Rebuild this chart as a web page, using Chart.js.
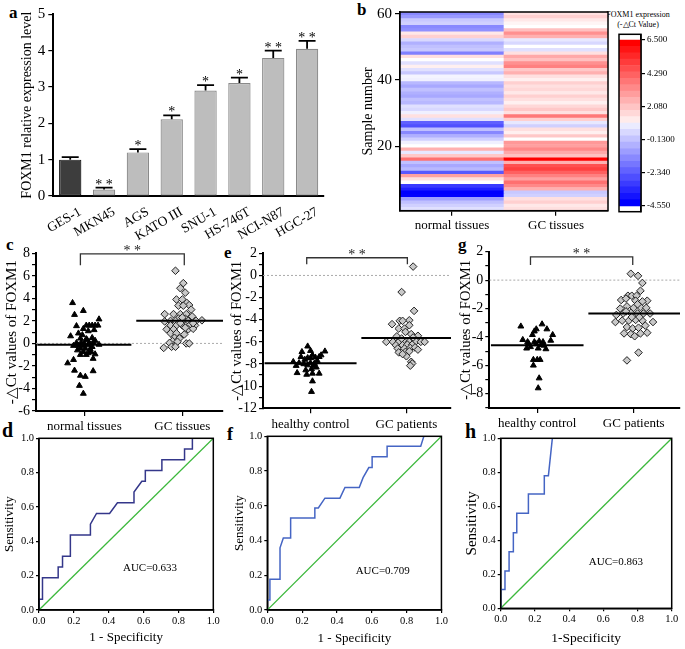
<!DOCTYPE html>
<html>
<head>
<meta charset="utf-8">
<script src="https://cdn.jsdelivr.net/npm/chart.js@4.4.1/dist/chart.umd.min.js"></script>
<style>
  html, body { margin: 0; padding: 0; background: #fff; }
  body { position: relative; width: 685px; height: 649px; overflow: hidden; }
  canvas { position: absolute; }
  .tag { position: absolute; font-family: 'Liberation Serif', serif; font-weight: bold; line-height: 1; color: #000; }
  .cbar { position: absolute; font-family: 'Liberation Serif', serif; font-size: 8px; line-height: 10px; text-align: center; color: #000; }
</style>
</head>
<body>
<div class="tag" style="left:9px;top:4px;font-size:17px">a</div>
<div class="tag" style="left:357px;top:1px;font-size:17px">b</div>
<div class="tag" style="left:6px;top:236px;font-size:17px">c</div>
<div class="tag" style="left:224px;top:244px;font-size:17px">e</div>
<div class="tag" style="left:458px;top:236px;font-size:17px">g</div>
<div class="tag" style="left:2px;top:420px;font-size:20px">d</div>
<div class="tag" style="left:227px;top:425px;font-size:18px">f</div>
<div class="tag" style="left:465px;top:421px;font-size:20px">h</div>
<div class="cbar" style="left:598px;top:10px;width:80px">FOXM1 expression<br>(-△Ct Value)</div>

<script>
// ---- panel a: qPCR in cell lines ----
const cellLines = ['GES-1', 'MKN45', 'AGS', 'KATO III', 'SNU-1', 'HS-746T', 'NCI-N87', 'HGC-27'];
const foxm1Level = [1.0, 0.18, 1.2, 2.11, 2.9, 3.11, 3.8, 4.05];
const foxm1Err = [0.07, 0.05, 0.09, 0.11, 0.15, 0.15, 0.2, 0.22];
const foxm1Sig = ['', '**', '*', '*', '*', '*', '**', '**'];

// ---- panel b: heatmap, sample 1 (bottom) .. 60 (top) ----
const heatGroups = ['normal tissues', 'GC tissues'];
const heatNormal = [0.30, -0.04, -0.39, -1.08, -4.5, -4.55, -3.86, -3.29, 0.98, 1.65,
  3.03, -2.64, -0.56, -0.91, -0.39, 4.07, 2.17, 0.48, 2.69, 0.98,
  0.65, -0.04, -0.74, -1.60, -0.39, -2.82, -2.47, 0.30, 1.65, 0.65,
  0.13, 0.30, -0.56, -0.39, -0.91, -0.74, -0.39, -0.91, -0.56, 0.65,
  0.74, -0.22, 0.30, 1.30, 0.30, 0.98, 1.65, -1.78, -0.22, -0.39,
  -0.74, 0.13, 1.99, 1.47, -1.43, -1.60, -0.04, -0.22, -1.21, -1.60];
const heatGC = [1.65, 1.47, 1.99, 1.65, -0.04, -0.22, 2.69, 3.55, 4.07, 3.03,
  3.73, 4.42, 5.11, 4.77, 2.69, 6.5, 2.34, 2.86, 3.55, 3.03,
  3.21, 0.98, 2.17, 1.30, 1.65, -0.04, 0.48, 1.99, 3.90, 1.65,
  2.17, 1.82, 1.30, 1.65, 1.99, 1.47, 1.82, 1.65, 1.99, 1.30,
  1.65, 2.69, 2.17, 3.73, 3.38, 2.34, 2.86, 1.65, 0.30, 0.98,
  0.13, 0.48, 2.69, 3.38, 2.34, 0.98, 1.20, 1.47, 1.99, 1.65];
const heatTicks = [6.5, 4.29, 2.08, -0.13, -2.34, -4.55];
const heatTickLabels = ['6.500', '4.290', '2.080', '-0.1300', '-2.340', '-4.550'];

// ---- panel c: tissues ----
const tissueGroups = ['normal tissues', 'GC tissues'];
const cNormal = [3.6, 2.55, 2.9, 2.15, 1.55, 1.6, 1.6, 1.6, 1.6, 1.6, 1.3, 1.1, 0.65, 0.9, 0.75, 0.45, 0.4, 0.3,
  0.05, 0.1, 0.05, 0.1, 0.25, -0.2, -0.2, -0.2, -0.15, -0.1, 0.0, -0.45, -0.45, -0.5, -0.3, -0.75, -0.75, -0.6,
  -1.0, -1.0, -0.95, -1.35, -1.45, -1.75, -2.4, -2.45, -2.85, -2.95, -3.75, -4.45, 0.5, -0.85, 1.2];
const cNormalJit = [-0.12, -0.10, -0.01, 0.15, -0.08, 0.02, 0.05, 0.08, 0.11, 0.14, -0.01, 0.04, -0.14, -0.06, -0.02, -0.04, 0.02, 0.03,
  -0.08, -0.03, 0.05, 0.09, 0.11, -0.11, -0.06, -0.01, 0.04, 0.15, 0.0, -0.04, 0.01, 0.06, 0.08, -0.01, 0.07, -0.07,
  -0.04, 0.02, 0.11, 0.09, -0.11, -0.17, -0.10, 0.09, -0.04, 0.01, -0.05, -0.01, 0.08, 0.04, 0.10];
const cTumor = [6.45, 5.35, 4.9, 4.5, 3.9, 3.9, 3.6, 3.4, 3.35, 3.35, 3.0, 2.6, 2.6, 2.6, 2.6, 2.4, 2.2, 2.2,
  1.95, 2.0, 2.0, 2.05, 2.0, 2.0, 2.05, 1.6, 1.6, 1.6, 1.65, 1.6, 1.25, 1.25, 1.25, 1.3, 0.9, 0.9, 0.8,
  0.5, 0.45, 0.2, 0.15, 0.05, 0.0, 0.0, -0.4, -0.3, -0.3, 1.8, 2.3, 1.4, 1.8];
const cTumorJit = [-0.07, 0.01, -0.02, 0.03, -0.06, 0.0, 0.045, 0.07, -0.04, 0.01, 0.09, -0.18, -0.09, -0.02, 0.04, 0.10, -0.04, 0.03,
  -0.18, -0.12, -0.07, 0.01, 0.06, 0.14, 0.20, -0.12, -0.06, 0.0, 0.08, 0.13, -0.16, -0.09, 0.06, 0.11, -0.12, -0.06, 0.02,
  -0.08, -0.03, -0.10, -0.05, -0.13, 0.04, 0.07, -0.19, -0.11, -0.07, -0.02, 0.0, 0.03, 0.11];
const cMeans = [-0.12, 2.02];

// ---- panel e: plasma cohort 1 ----
const plasmaGroups = ['healthy control', 'GC patients'];
const eHealthy = [-6.4, -6.8, -6.9, -6.85, -7.2, -7.2, -7.35, -7.45, -7.45, -7.4, -7.35, -7.8, -7.9, -8.0, -7.9,
  -7.95, -8.15, -8.1, -8.15, -8.8, -8.55, -8.45, -8.85, -8.85, -8.95, -9.55, -10.5, -7.6, -7.7, -8.3];
const eHealthyJit = [-0.03, 0.0, -0.09, 0.15, 0.11, 0.02, -0.10, -0.03, 0.0, 0.05, 0.09, -0.18, -0.12, -0.07, 0.0,
  0.04, -0.15, -0.03, 0.03, -0.14, -0.05, 0.01, 0.09, 0.02, -0.04, 0.02, 0.01, -0.06, 0.07, 0.06];
const ePatients = [0.8, -1.5, -3.2, -4.4, -4.05, -4.1, -4.1, -4.8, -4.8, -4.5, -5.45, -5.1, -5.3, -5.5, -6.0, -6.0,
  -6.0, -6.0, -6.0, -5.95, -6.0, -6.0, -6.3, -6.3, -6.25, -6.25, -6.6, -6.6, -6.55, -6.5, -6.95, -6.9, -6.85,
  -7.3, -7.8, -7.95, -8.15, -5.7, -5.6, -6.7, -7.1];
const ePatientsJit = [0.07, -0.05, 0.08, -0.15, 0.03, -0.07, -0.04, -0.08, -0.02, 0.03, 0.12, -0.01, 0.05, -0.10, -0.21, -0.14,
  -0.08, -0.02, 0.03, 0.10, 0.15, 0.19, -0.11, -0.04, 0.01, 0.06, -0.09, -0.02, 0.04, 0.09, -0.08, -0.01, 0.03,
  0.0, 0.05, 0.06, 0.04, -0.05, 0.07, 0.12, -0.04];
const eMeans = [-7.94, -5.66];

// ---- panel g: plasma cohort 2 ----
const gHealthy = [-3.25, -3.1, -3.45, -3.6, -3.45, -3.85, -4.2, -3.85, -4.25, -4.35, -4.35, -4.3, -4.35, -4.8,
  -4.7, -4.8, -4.85, -4.5, -4.55, -5.6, -5.6, -5.6, -6.0, -6.9, -7.6, -4.45, -4.6];
const gHealthyJit = [-0.17, 0.05, -0.01, -0.03, 0.10, 0.16, -0.15, -0.05, 0.14, -0.10, -0.03, 0.02, 0.06, -0.11,
  -0.07, 0.01, 0.09, -0.01, 0.04, -0.04, 0.0, 0.03, -0.04, 0.02, 0.01, -0.09, 0.07];
const gPatients = [0.45, 0.3, -0.2, -0.75, -1.1, -1.1, -1.1, -1.4, -1.3, -1.45, -1.45, -1.5, -2.0, -1.85, -1.95,
  -1.9, -1.95, -2.45, -2.35, -2.3, -2.35, -2.35, -2.35, -2.95, -2.85, -2.85, -2.8, -2.85, -2.95, -3.3, -3.4,
  -3.35, -3.2, -3.75, -3.8, -3.75, -3.7, -3.95, -5.1, -5.65, -2.6, -2.6, -2.2, -1.7];
const gPatientsJit = [-0.03, 0.045, 0.09, 0.07, -0.06, -0.02, 0.03, -0.13, -0.08, 0.14, 0.02, 0.09, -0.14, -0.07, 0.0,
  0.07, 0.13, -0.18, -0.11, -0.03, 0.04, 0.10, 0.17, -0.19, -0.12, -0.05, 0.02, 0.09, 0.20, -0.07, -0.01,
  0.05, 0.12, -0.10, -0.03, 0.07, 0.14, 0.01, 0.05, -0.07, -0.02, 0.06, -0.08, 0.04];
const gMeans = [-4.58, -2.35];

// ---- ROC curves (1 - specificity, sensitivity) ----
const rocD_fpr = [0, 0, 0.02, 0.02, 0.11, 0.11, 0.135, 0.135, 0.18, 0.18, 0.295, 0.295, 0.33, 0.405, 0.45, 0.545, 0.545, 0.59, 0.61, 0.61, 0.705, 0.705, 0.835, 0.835, 0.88, 0.88, 1];
const rocD_tpr = [0, 0.0625, 0.0625, 0.1875, 0.1875, 0.25, 0.25, 0.3125, 0.3125, 0.4375, 0.4375, 0.5, 0.5625, 0.5625, 0.625, 0.625, 0.6875, 0.75, 0.75, 0.8125, 0.8125, 0.875, 0.875, 0.9375, 0.9375, 1, 1];
const rocF_fpr = [0, 0, 0.015, 0.015, 0.073, 0.073, 0.092, 0.134, 0.134, 0.273, 0.273, 0.293, 0.331, 0.417, 0.446, 0.528, 0.55, 0.583, 0.602, 0.602, 0.688, 0.688, 0.881, 0.899, 1];
const rocF_tpr = [0, 0.057, 0.057, 0.177, 0.177, 0.358, 0.415, 0.415, 0.53, 0.53, 0.587, 0.587, 0.644, 0.644, 0.705, 0.705, 0.762, 0.82, 0.82, 0.882, 0.882, 0.943, 0.943, 1, 1];
const rocH_fpr = [0, 0, 0.025, 0.025, 0.049, 0.049, 0.074, 0.074, 0.094, 0.094, 0.162, 0.162, 0.255, 0.255, 0.279, 0.302, 1];
const rocH_tpr = [0, 0.11, 0.11, 0.22, 0.22, 0.333, 0.333, 0.445, 0.445, 0.559, 0.559, 0.672, 0.672, 0.78, 0.78, 1, 1];
const aucLabels = ['AUC=0.633', 'AUC=0.709', 'AUC=0.863'];

// ---------------------------------------------------------------
const FONT = "'Liberation Serif', 'Times New Roman', serif";
Chart.defaults.font.family = FONT;
Chart.defaults.color = '#000';
Chart.defaults.animation = false;
Chart.defaults.events = [];
Chart.defaults.plugins.legend.display = false;
Chart.defaults.plugins.tooltip.enabled = false;

const heatMin = -4.55, heatMax = 6.5, heatMid = (heatMin + heatMax) / 2;
function heatColor(v) {
  if (v <= heatMid) {
    const c = Math.round(255 * Math.max(0, (v - heatMin) / (heatMid - heatMin)));
    return `rgb(${c},${c},255)`;
  }
  const c = Math.round(255 * (1 - Math.min(1, (v - heatMid) / (heatMax - heatMid))));
  return `rgb(255,${c},${c})`;
}

function spaced(s) { return s.split('').join(' '); }

// box around the plot area
const framePlugin = {
  id: 'frame',
  defaults: { on: false, width: 1.5 },
  afterDraw(chart, args, o) {
    if (!o.on) return;
    const { ctx, chartArea: a } = chart;
    ctx.save();
    ctx.strokeStyle = '#000';
    ctx.lineWidth = o.width;
    ctx.strokeRect(a.left, a.top, a.right - a.left, a.bottom - a.top);
    ctx.restore();
  }
};

// significance bracket between the two groups
const bracketPlugin = {
  id: 'bracket',
  defaults: { on: false },
  afterDatasetsDraw(chart, args, o) {
    if (!o.on) return;
    const { ctx, scales: { x, y } } = chart;
    const x1 = x.getPixelForValue(o.from), x2 = x.getPixelForValue(o.to);
    const yy = y.getPixelForValue(o.level), yf = y.getPixelForValue(o.foot);
    ctx.save();
    ctx.strokeStyle = '#333';
    ctx.lineWidth = 1.3;
    ctx.beginPath();
    ctx.moveTo(x1, yf); ctx.lineTo(x1, yy); ctx.lineTo(x2, yy); ctx.lineTo(x2, yf);
    ctx.stroke();
    ctx.fillStyle = '#222';
    ctx.font = '14px ' + FONT;
    ctx.textAlign = 'center';
    ctx.textBaseline = 'alphabetic';
    ctx.fillText(spaced(o.text), (x1 + x2) / 2, yy + 1);
    ctx.restore();
  }
};

// error bar caps and stars for the bar chart
const errPlugin = {
  id: 'err',
  defaults: { on: false },
  afterDatasetsDraw(chart, args, o) {
    if (!o.on) return;
    const { ctx, scales: { y } } = chart;
    const meta = chart.getDatasetMeta(0);
    ctx.save();
    meta.data.forEach((bar, i) => {
      const v = chart.data.datasets[0].data[i];
      const top = y.getPixelForValue(v + o.err[i]);
      const hw = bar.width * 0.38;
      ctx.strokeStyle = '#000';
      ctx.lineWidth = 1.8;
      ctx.beginPath();
      ctx.moveTo(bar.x, y.getPixelForValue(v)); ctx.lineTo(bar.x, top);
      ctx.moveTo(bar.x - hw, top); ctx.lineTo(bar.x + hw, top);
      ctx.stroke();
      if (o.sig[i]) {
        ctx.fillStyle = '#000';
        ctx.font = '14px ' + FONT;
        ctx.textAlign = 'center';
        ctx.textBaseline = 'alphabetic';
        ctx.fillText(spaced(o.sig[i]), bar.x, top + 1);
      }
    });
    ctx.restore();
  }
};

// free text placed at data coordinates
const notePlugin = {
  id: 'note',
  defaults: { items: [] },
  afterDatasetsDraw(chart, args, o) {
    const { ctx, scales: { x, y } } = chart;
    o.items.forEach(n => {
      ctx.save();
      ctx.fillStyle = '#000';
      ctx.font = n.size + 'px ' + FONT;
      ctx.textAlign = 'center';
      ctx.textBaseline = 'middle';
      ctx.fillText(n.text, x.getPixelForValue(n.x), y.getPixelForValue(n.y));
      ctx.restore();
    });
  }
};

Chart.register(framePlugin, bracketPlugin, errPlugin, notePlugin);

function place(left, top, w, h) {
  const c = document.createElement('canvas');
  c.width = w; c.height = h;
  c.style.left = left + 'px'; c.style.top = top + 'px';
  c.style.width = w + 'px'; c.style.height = h + 'px';
  document.body.appendChild(c);
  return c;
}

function yAxis(o) {
  const s = {
    position: o.position || 'left',
    min: o.min, max: o.max,
    afterFit: sc => { sc.width = o.w; },
    ticks: {
      stepSize: o.step, font: { family: FONT, size: o.fs }, color: '#000',
      padding: o.pad ?? 3, autoSkip: false, callback: o.label || (v => v)
    },
    grid: { drawOnChartArea: false, tickLength: o.tl ?? 5, color: '#000', lineWidth: 1.2 },
    border: { color: '#000', width: o.bw ?? 2 },
    title: o.title
      ? { display: true, text: o.title, color: '#000', font: { family: FONT, size: o.tfs }, padding: { top: o.tp, bottom: 0 } }
      : { display: false }
  };
  if (o.ticks) s.afterBuildTicks = sc => { sc.ticks = o.ticks.map(v => ({ value: v })); };
  return s;
}

function xAxis(o) {
  const s = {
    type: o.type || 'linear',
    min: o.min, max: o.max,
    afterFit: sc => { sc.height = o.h; },
    ticks: {
      stepSize: o.step, font: { family: FONT, size: o.fs }, color: '#000',
      padding: o.pad ?? 2, autoSkip: false, maxRotation: o.rot ?? 0, minRotation: o.rot ?? 0,
      labelOffset: o.lo ?? 0, callback: o.label || (v => v)
    },
    grid: { display: o.grid ?? true, drawOnChartArea: false, offset: false, tickLength: o.tl ?? 5, color: '#000', lineWidth: 1.2 },
    border: { color: '#000', width: o.bw ?? 2 },
    title: o.title
      ? { display: true, text: o.title, color: '#000', font: { family: FONT, size: o.tfs }, padding: { top: 0, bottom: o.tp } }
      : { display: false }
  };
  if (o.ticks) s.afterBuildTicks = sc => { sc.ticks = o.ticks.map(v => ({ value: v })); };
  return s;
}

// ---- a: bar chart ----
new Chart(place(0, 0, 340, 242), {
  type: 'bar',
  data: {
    labels: cellLines,
    datasets: [{
      data: foxm1Level,
      backgroundColor: cellLines.map((c, i) => i === 0 ? '#3d3d3d' : '#bdbdbd'),
      borderColor: cellLines.map((c, i) => i === 0 ? '#1a1a1a' : '#8a8a8a'),
      borderWidth: 1.2, borderSkipped: false,
      barPercentage: 0.66, categoryPercentage: 1
    }]
  },
  options: {
    responsive: false,
    layout: { padding: { top: 14.3, right: 16, left: 0, bottom: 0 } },
    scales: {
      x: xAxis({ type: 'category', h: 46, fs: 13.5, rot: 30, lo: 10, grid: false, pad: 3, label: function (v, i) { return cellLines[i]; } }),
      y: yAxis({ min: 0, max: 5, step: 1, w: 53.3, fs: 15, title: 'FOXM1 relative expression level', tfs: 14, tp: 19 })
    },
    plugins: { err: { on: true, err: foxm1Err, sig: foxm1Sig } }
  }
});

// ---- b: heatmap ----
new Chart(place(340, 0, 270, 236), {
  type: 'bar',
  data: {
    labels: heatGroups,
    datasets: heatNormal.map((v, i) => ({
      data: [[i + 0.5, i + 1.5], [i + 0.5, i + 1.5]],
      backgroundColor: [heatColor(heatNormal[i]), heatColor(heatGC[i])],
      borderWidth: 0, barPercentage: 1, categoryPercentage: 1, grouped: false
    }))
  },
  options: {
    responsive: false,
    layout: { padding: { top: 11.3, right: 2, left: 0, bottom: 0 } },
    scales: {
      x: xAxis({ type: 'category', h: 25.3, fs: 13, pad: 2, bw: 1.5, label: function (v, i) { return heatGroups[i]; } }),
      y: yAxis({ min: 0.5, max: 60.5, ticks: [20, 40, 60], w: 60, fs: 15, bw: 1.5, title: 'Sample number', tfs: 14, tp: 20 })
    },
    plugins: { frame: { on: true, width: 1.5 } }
  }
});

// ---- b: colour bar ----
const bandCount = 26;
const bandStep = (heatMax - heatMin) / bandCount;
const bands = [];
for (let i = 0; i < bandCount; i++) {
  const lo = heatMin + i * bandStep, hi = lo + bandStep;
  bands.push({
    data: [[lo, hi]],
    backgroundColor: heatColor(lo + bandStep / 2 > heatMid ? hi : lo),
    borderWidth: 0, barPercentage: 1, categoryPercentage: 1, grouped: false
  });
}
new Chart(place(598, 0, 87, 236), {
  type: 'bar',
  data: { labels: [''], datasets: bands },
  options: {
    responsive: false,
    layout: { padding: { top: 34.3, right: 0, left: 21, bottom: 24.3 } },
    scales: {
      x: { display: false },
      y: yAxis({ position: 'right', min: heatMin - 0.38, max: heatMax + 0.38, ticks: heatTicks, w: 44, fs: 9, tl: 4, pad: 2, bw: 1.5,
        label: function (v, i) { return heatTickLabels[i]; } })
    },
    plugins: { frame: { on: true, width: 1.5 } }
  }
});

// ---- c, e, g: dot plots ----
function dotPanel(box, o) {
  const mean = (g, from, to) => ({
    data: [{ x: from, y: o.means[g] }, { x: to, y: o.means[g] }],
    showLine: true, borderColor: '#000', borderWidth: 2, pointRadius: 0
  });
  new Chart(place(...box), {
    type: 'scatter',
    data: {
      datasets: [
        mean(0, 1 - 0.48, 1 + 0.48),
        mean(1, 2 - 0.47, o.xmax),
        {
          data: o.v1.map((v, i) => ({ x: 1 + o.j1[i], y: v })),
          pointStyle: 'triangle', pointRadius: 3.4, backgroundColor: '#000', borderColor: '#000', borderWidth: 1
        },
        {
          data: o.v2.map((v, i) => ({ x: 2 + o.j2[i], y: v })),
          pointStyle: 'rectRot', pointRadius: 3.8, backgroundColor: '#c8c8c8', borderColor: '#222', borderWidth: 1
        },
        {
          data: [{ x: o.xmin, y: 0 }, { x: o.xmax, y: 0 }],
          showLine: true, borderColor: '#aaa', borderDash: [2, 2], borderWidth: 1, pointRadius: 0
        }
      ]
    },
    options: {
      responsive: false,
      layout: { padding: o.pad },
      scales: {
        x: xAxis({ min: o.xmin, max: o.xmax, ticks: [1, 2], h: o.xh, fs: 13, pad: 3, label: function (v, i) { return o.groups[i]; } }),
        y: yAxis({ min: o.ymin, max: o.ymax, step: 1, w: o.yw, fs: 14, tl: 4, pad: 2,
          label: v => (v % 2 === 0 ? v : ''), title: '-△Ct values of FOXM1', tfs: o.tfs, tp: o.tp })
      },
      plugins: { bracket: Object.assign({ on: true, text: '**' }, o.bracket) }
    }
  });
}

dotPanel([0, 232, 228, 205], {
  groups: tissueGroups, v1: cNormal, j1: cNormalJit, v2: cTumor, j2: cTumorJit, means: cMeans,
  xmin: 0.507, xmax: 2.415, ymin: -6, ymax: 8, yw: 36, xh: 26, tfs: 15, tp: 3.5,
  pad: { top: 21.3, right: 5, left: 0, bottom: 0 },
  bracket: { from: 0.96, to: 2.02, level: 7.95, foot: 6.95 }
});

dotPanel([228, 232, 228, 205], {
  groups: plasmaGroups, v1: eHealthy, j1: eHealthyJit, v2: ePatients, j2: ePatientsJit, means: eMeans,
  xmin: 0.504, xmax: 2.465, ymin: -12, ymax: 2, yw: 35, xh: 28.7, tfs: 14.5, tp: 0,
  pad: { top: 21.3, right: 2, left: 0, bottom: 0 },
  bracket: { from: 0.96, to: 2.01, level: 1.6, foot: 1.0 }
});

dotPanel([456, 232, 229, 205], {
  groups: plasmaGroups, v1: gHealthy, j1: gHealthyJit, v2: gPatients, j2: gPatientsJit, means: gMeans,
  xmin: 0.503, xmax: 2.48, ymin: -9, ymax: 2, yw: 33.3, xh: 29, tfs: 14.5, tp: 1,
  pad: { top: 19.7, right: 3.3, left: 0, bottom: 0 },
  bracket: { from: 0.93, to: 1.99, level: 1.64, foot: 1.06 }
});

// ---- d, f, h: ROC curves ----
function rocPanel(box, o) {
  new Chart(place(...box), {
    type: 'scatter',
    data: {
      datasets: [
        {
          data: o.fpr.map((f, i) => ({ x: f, y: o.tpr[i] })),
          showLine: true, borderColor: o.color, borderWidth: 1.5, pointRadius: 0
        },
        {
          data: [{ x: 0, y: 0 }, { x: 1, y: 1 }],
          showLine: true, borderColor: '#3cb83c', borderWidth: 1.3, pointRadius: 0
        }
      ]
    },
    options: {
      responsive: false,
      layout: { padding: o.pad },
      scales: {
        x: xAxis({ min: 0, max: 1, step: 0.2, h: o.xh, fs: 10.5, tl: 3, pad: 2, bw: 1.5, label: v => v.toFixed(1),
          title: o.xt, tfs: o.xtfs, tp: o.xtp }),
        y: yAxis({ min: 0, max: 1, step: 0.2, w: o.yw, fs: 10.5, tl: 3, pad: 2, bw: 1.5, label: v => v.toFixed(1),
          title: 'Sensitivity', tfs: o.ytfs, tp: o.ytp })
      },
      plugins: {
        frame: { on: true, width: 1.5 },
        note: { items: [{ text: o.auc, x: o.aucAt[0], y: o.aucAt[1], size: 11 }] }
      }
    }
  });
}

rocPanel([0, 430, 225, 219], {
  fpr: rocD_fpr, tpr: rocD_tpr, color: '#34378a', auc: aucLabels[0], aucAt: [0.637, 0.243],
  yw: 39, xh: 39, pad: { top: 7.3, right: 11.7, left: 0, bottom: 0 },
  xt: '1 - Specificity', xtfs: 13, xtp: 3.2, ytfs: 13, ytp: 2.2
});

rocPanel([225, 428, 225, 221], {
  fpr: rocF_fpr, tpr: rocF_tpr, color: '#4565c4', auc: aucLabels[1], aucAt: [0.663, 0.223],
  yw: 42.3, xh: 39, pad: { top: 7, right: 8.3, left: 0, bottom: 0 },
  xt: '1 - Specificity', xtfs: 13, xtp: 2.9, ytfs: 13, ytp: 7.2
});

rocPanel([455, 428, 230, 221], {
  fpr: rocH_fpr, tpr: rocH_tpr, color: '#4565c4', auc: aucLabels[2], aucAt: [0.674, 0.272],
  yw: 45.7, xh: 40.7, pad: { top: 10.3, right: 13.3, left: 0, bottom: 0 },
  xt: '1-Specificity', xtfs: 13.5, xtp: 2.6, ytfs: 15, ytp: 8
});
</script>
</body>
</html>
